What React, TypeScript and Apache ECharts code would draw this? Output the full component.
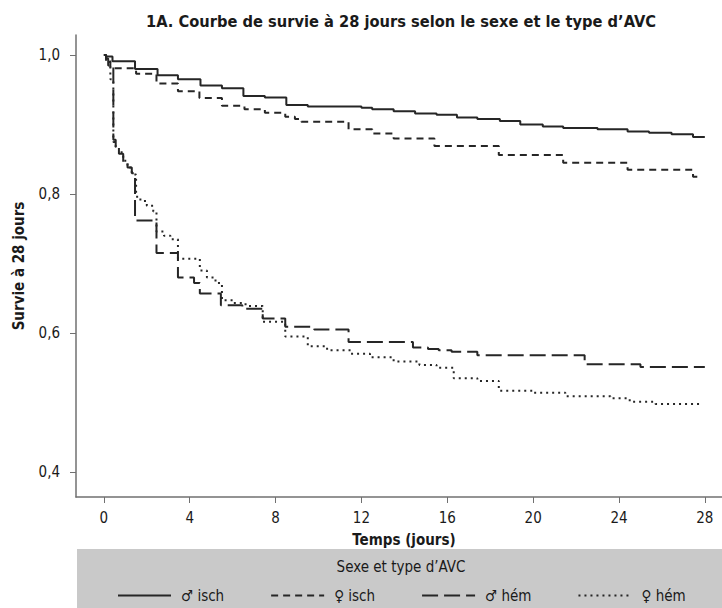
import React, { useEffect, useRef } from "react";
import * as echarts from "echarts";

const TITLE = "1A. Courbe de survie à 28 jours selon le sexe et le type d’AVC";
const X_NAME = "Temps (jours)";
const Y_NAME = "Survie à 28 jours";
const LEGEND_TITLE = "Sexe et type d’AVC";
const X_TICKS = [0, 4, 8, 12, 16, 20, 24, 28];
const Y_TICKS = [0.4, 0.6, 0.8, 1.0];
const SERIES_NAMES = ["♂ isch", "♀ isch", "♂ hém", "♀ hém"];

// ♂ isch
const maleIschT = [0, 0.1, 0.4, 1.45, 2.5, 3.45, 4.5, 5.5, 6.5, 7.5, 8.5, 9.5, 12.0, 12.5, 13.5, 14.5, 15.5, 16.45, 17.4, 18.45, 19.4, 20.45, 21.4, 23.0, 24.4, 25.4, 26.45, 27.45, 28.0];
const maleIschS = [1.0, 0.998, 0.991, 0.98, 0.971, 0.965, 0.956, 0.952, 0.941, 0.939, 0.928, 0.926, 0.924, 0.922, 0.919, 0.916, 0.914, 0.91, 0.908, 0.905, 0.9, 0.897, 0.895, 0.893, 0.89, 0.888, 0.886, 0.882, 0.882];

// ♀ isch
const femIschT = [0, 0.1, 0.3, 1.5, 2.45, 3.45, 4.45, 5.5, 6.55, 7.5, 8.45, 8.9, 9.2, 11.4, 12.5, 13.5, 15.4, 18.4, 21.4, 24.4, 27.45, 27.7];
const femIschS = [1.0, 0.995, 0.981, 0.973, 0.959, 0.948, 0.938, 0.927, 0.922, 0.917, 0.911, 0.908, 0.904, 0.893, 0.887, 0.88, 0.869, 0.856, 0.845, 0.835, 0.825, 0.825];

// ♂ hém
const maleHemT = [0, 0.1, 0.2, 0.44, 0.55, 0.7, 0.9, 1.1, 1.3, 1.45, 2.45, 3.45, 4.2, 4.47, 5.45, 6.45, 7.4, 8.45, 9.8, 11.4, 14.4, 15.1, 15.6, 16.2, 17.4, 22.4, 25.0, 28.0];
const maleHemS = [1.0, 0.995, 0.985, 0.878, 0.866, 0.858, 0.845, 0.838, 0.83, 0.762, 0.715, 0.68, 0.672, 0.657, 0.64, 0.635, 0.621, 0.609, 0.605, 0.587, 0.579, 0.577, 0.575, 0.573, 0.568, 0.555, 0.551, 0.551];

// ♀ hém
const femHemT = [0, 0.1, 0.3, 0.44, 0.55, 0.7, 0.9, 1.1, 1.3, 1.5, 1.7, 2.0, 2.3, 2.45, 2.8, 3.1, 3.45, 4.47, 4.8, 5.2, 5.5, 6.0, 6.6, 7.4, 8.45, 9.5, 10.4, 11.5, 12.4, 13.5, 14.7, 15.5, 16.3, 17.4, 18.4, 20.0, 21.5, 23.6, 24.5, 25.7, 27.8];
const femHemS = [1.0, 0.99, 0.965, 0.875, 0.868, 0.86, 0.848, 0.838, 0.828, 0.796, 0.79, 0.783, 0.775, 0.746, 0.74, 0.735, 0.707, 0.69, 0.68, 0.672, 0.647, 0.643, 0.639, 0.616, 0.595, 0.581, 0.575, 0.57, 0.565, 0.559, 0.554, 0.55, 0.535, 0.531, 0.517, 0.514, 0.509, 0.506, 0.501, 0.498, 0.498];

const FONT = "'Liberation Sans Narrow', 'Arial Narrow', 'DejaVu Sans Condensed', 'Liberation Sans', sans-serif";
const INK = "#262626";
const AXIS = "#707070";

const pairs = (t: number[], s: number[]) => t.map((v, i) => [v, s[i]]);

export default function App() {
  const ref = useRef<HTMLDivElement>(null);
  useEffect(() => {
    if (!ref.current) return;
    const chart = echarts.init(ref.current, undefined, { renderer: "svg" });
    const dashes: any[] = ["solid", [7, 5], [16, 6], [2, 4]];
    const datasets = [
      pairs(maleIschT, maleIschS),
      pairs(femIschT, femIschS),
      pairs(maleHemT, maleHemS),
      pairs(femHemT, femHemS),
    ];
    chart.setOption({
      animation: false,
      backgroundColor: "#ffffff",
      title: {
        text: TITLE,
        left: 396,
        top: 8,
        textAlign: "center",
        textStyle: { fontFamily: FONT, fontSize: 16.3, fontWeight: "bold", color: "#1a1a1a" },
      },
      grid: { left: 76, top: 35, width: 646, height: 462, containLabel: false },
      xAxis: {
        type: "value",
        min: -1.3,
        max: 28.8,
        name: X_NAME,
        nameLocation: "middle",
        nameGap: 35,
        nameTextStyle: { fontFamily: FONT, fontSize: 15, fontWeight: "bold", color: "#1a1a1a", padding: [0, 0, 0, 10] },
        axisLine: { show: true, onZero: false, lineStyle: { color: AXIS, width: 1.5 } },
        axisTick: { show: true, customValues: X_TICKS, length: 6, lineStyle: { color: AXIS, width: 1 } },
        axisLabel: {
          customValues: X_TICKS,
          margin: 13,
          fontFamily: FONT,
          fontSize: 15,
          color: "#1a1a1a",
        },
        splitLine: { show: false },
      },
      yAxis: {
        type: "value",
        min: 0.364,
        max: 1.0288,
        name: Y_NAME,
        nameLocation: "middle",
        nameRotate: 90,
        nameGap: 50,
        nameTextStyle: { fontFamily: FONT, fontSize: 15, fontWeight: "bold", color: "#1a1a1a" },
        axisLine: { show: true, onZero: false, lineStyle: { color: AXIS, width: 1.5 } },
        axisTick: { show: true, customValues: Y_TICKS, length: 6, lineStyle: { color: AXIS, width: 1 } },
        axisLabel: {
          customValues: Y_TICKS,
          margin: 16,
          fontFamily: FONT,
          fontSize: 15,
          color: "#1a1a1a",
          formatter: (v: number) => v.toFixed(1).replace(".", ","),
        },
        splitLine: { show: false },
      },
      legend: {
        left: 112,
        top: 583,
        itemWidth: 53,
        itemHeight: 14,
        itemGap: 46,
        data: SERIES_NAMES,
        itemStyle: { opacity: 0 },
        textStyle: { fontFamily: FONT, fontSize: 15, color: "#1a1a1a", padding: [0, 0, 0, 5] },
      },
      graphic: [
        {
          type: "rect",
          z: -10,
          shape: { x: 77, y: 549, width: 645, height: 59 },
          style: { fill: "#c9c9c9" },
          silent: true,
        },
        {
          type: "text",
          z: 10,
          x: 401,
          y: 567,
          style: {
            text: LEGEND_TITLE,
            textAlign: "center",
            textVerticalAlign: "middle",
            fontFamily: FONT,
            fontSize: 15,
            fill: "#1a1a1a",
          },
        },
      ],
      series: datasets.map((d, i) => ({
        name: SERIES_NAMES[i],
        type: "line",
        step: "end",
        showSymbol: false,
        symbol: "none",
        data: d,
        lineStyle: { color: INK, width: 2, type: dashes[i] },
        itemStyle: { color: INK },
      })),
    });
    return () => chart.dispose();
  }, []);
  return <div ref={ref} style={{ position: "fixed", left: 0, top: 0, width: 722, height: 608 }} />;
}
